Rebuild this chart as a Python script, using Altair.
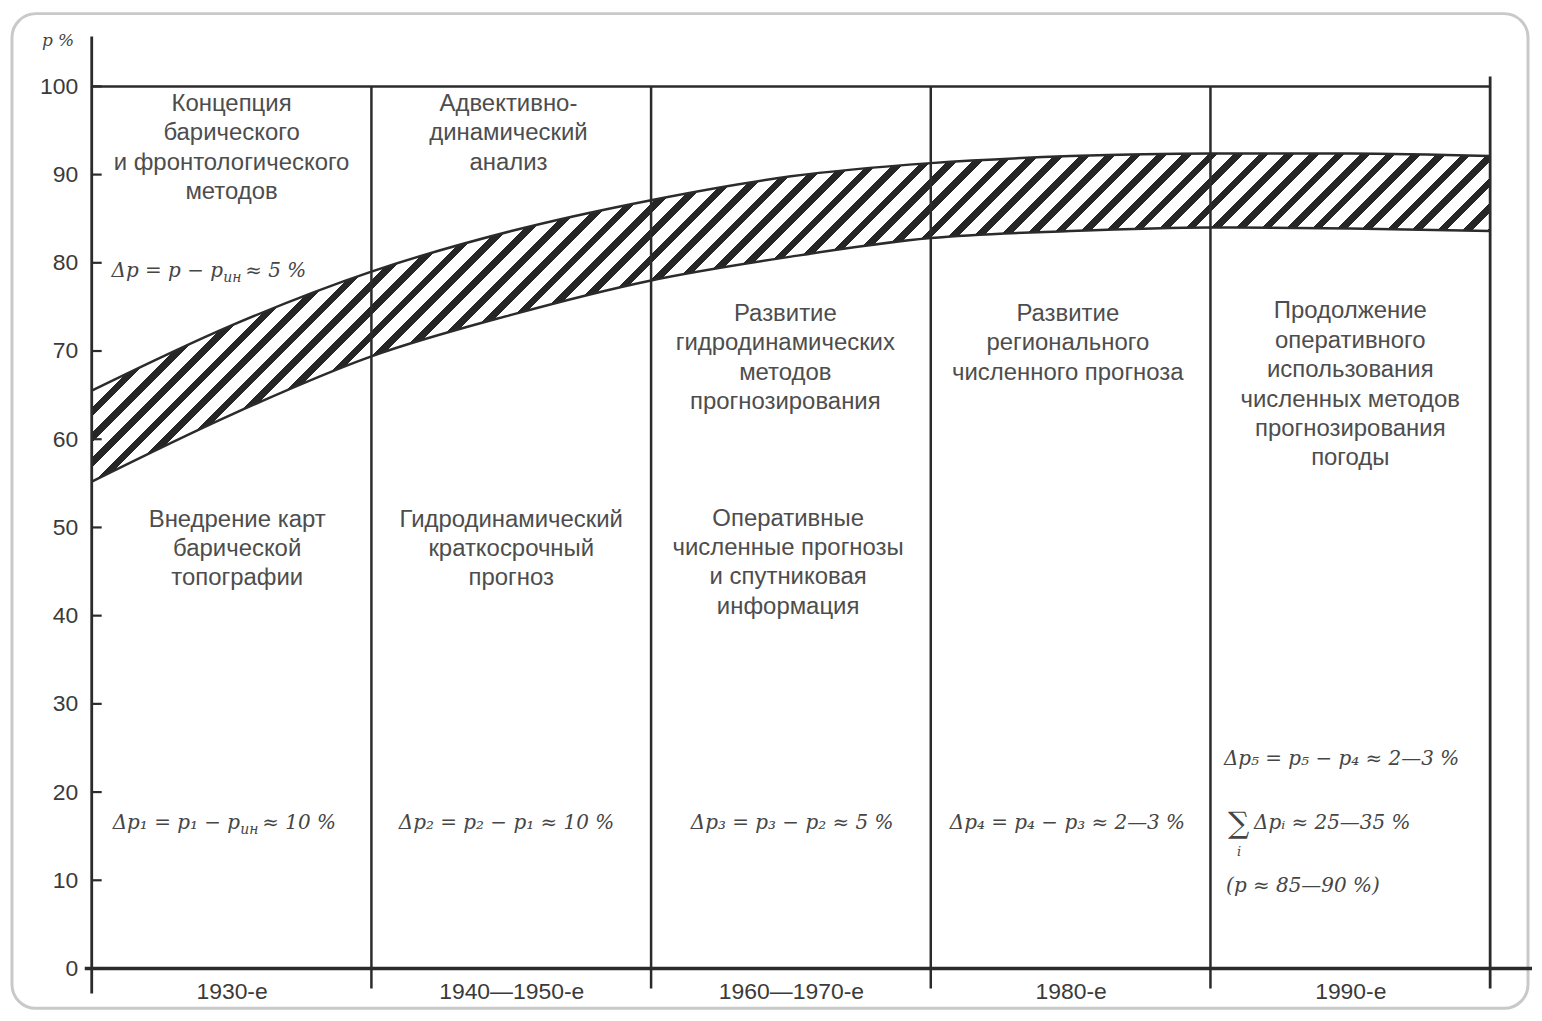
import json
import altair as alt
import pandas as pd

# ---------------- data ----------------
periods = ["1930-е", "1940—1950-е", "1960—1970-е", "1980-е", "1990-е"]
boundaries = list(range(len(periods) + 1))

band_x = [0, 0.5, 1, 1.5, 2, 2.5, 3, 3.5, 4, 4.5, 5]
band_upper = [65.5, 72.9, 79.0, 83.6, 87.1, 89.8, 91.3, 92.1, 92.4, 92.4, 92.1]
band_lower = [55.2, 62.8, 69.4, 74.1, 78.0, 80.7, 82.8, 83.6, 84.0, 83.9, 83.6]

y_ticks = [0, 10, 20, 30, 40, 50, 60, 70, 80, 90, 100]

ann_text = [
    "Концепция\nбарического\nи фронтологического\nметодов",
    "Адвективно-\nдинамический\nанализ",
    "Развитие\nгидродинамических\nметодов\nпрогнозирования",
    "Развитие\nрегионального\nчисленного прогноза",
    "Продолжение\nоперативного\nиспользования\nчисленных методов\nпрогнозирования\nпогоды",
    "Внедрение карт\nбарической\nтопографии",
    "Гидродинамический\nкраткосрочный\nпрогноз",
    "Оперативные\nчисленные прогнозы\nи спутниковая\nинформация",
]
ann_x = [0.50, 1.49, 2.48, 3.49, 4.50, 0.52, 1.50, 2.49]
ann_y = [97.2, 97.2, 73.4, 73.4, 73.7, 50.1, 50.1, 50.2]

formula_text = [
    "Δp = p − p",
    "Δp₁ = p₁ − p",
    "Δp₂ = p₂ − p₁ ≈ 10 %",
    "Δp₃ = p₃ − p₂ ≈ 5 %",
    "Δp₄ = p₄ − p₃ ≈ 2—3 %",
    "Δp₅ = p₅ − p₄ ≈ 2—3 %",
    "(p ≈ 85—90 %)",
]
formula_x = [0.071, 0.075, 1.098, 2.142, 3.068, 4.048, 4.056]
formula_y = [78.4, 15.8, 15.8, 15.8, 15.8, 23.05, 8.7]

sub_text = ["ин", "ин"]
suffix_text = [" ≈ 5 %", " ≈ 10 %"]

sum_sign = "∑"
sum_index = "i"
sum_text = "Δpᵢ ≈ 25—35 %"
sum_x = 4.063
sum_y = 15.8

# ---------------- frames ----------------
W, H = 1403, 885
band_df = pd.DataFrame({"x": band_x, "upper": band_upper, "lower": band_lower})
ann_df = pd.DataFrame({"x": ann_x, "y": ann_y, "text": ann_text})
form_df = pd.DataFrame({"x": formula_x, "y": formula_y, "text": formula_text})
ytick_df = pd.DataFrame({"y": y_ticks})

SX = alt.Scale(domain=[0, len(periods)], nice=False, zero=False)
SY = alt.Scale(domain=[0, 100], nice=False, zero=False)

LINE = "#2b2b2b"
SANS = "Liberation Sans"
SERIF = "DejaVu Serif"

label_expr = json.dumps(periods, ensure_ascii=False) + "[floor(datum.value)]"

x_axis = alt.Axis(
    values=[i + 0.5 for i in range(len(periods))],
    labelExpr=label_expr,
    ticks=False, domain=False, grid=False,
    labelFont=SANS, labelFontSize=23, labelColor="#3a3a3a",
    labelPadding=12, title=None,
)
y_axis = alt.Axis(
    values=y_ticks, ticks=False, domain=False, grid=False,
    labelFont=SANS, labelFontSize=23, labelColor="#3a3a3a",
    labelPadding=14, title=None,
)


def X(f):
    return alt.X(f, scale=SX, axis=x_axis)


def Y(f):
    return alt.Y(f, scale=SY, axis=y_axis)


# hatch made with a hard-stop linear gradient
n_stripes, dark_frac = 68, 0.38
stops = []
for i in range(n_stripes):
    a = i / n_stripes
    b = (i + dark_frac) / n_stripes
    c = (i + 1) / n_stripes
    stops += [
        alt.GradientStop(offset=a, color="#262626"),
        alt.GradientStop(offset=b, color="#262626"),
        alt.GradientStop(offset=b, color="#ffffff"),
        alt.GradientStop(offset=c, color="#ffffff"),
    ]
bw = W
bh = (max(band_upper) - min(band_lower)) / 100 * H
k = (bw + bh) * bw / (bw ** 2 + bh ** 2)
hatch = alt.LinearGradient(gradient="linear", stops=stops, x1=0, y1=0, x2=k, y2=k * bh / bw)

one = pd.DataFrame({"v": [0]})

frame = alt.Chart(one).mark_rect(
    fillOpacity=0, stroke="#c9c9c9", strokeWidth=3, cornerRadius=24
).encode(x=alt.value(-80), x2=alt.value(1441), y=alt.value(-73), y2=alt.value(925))

area = alt.Chart(band_df).mark_area(interpolate="monotone", color=hatch).encode(
    x=X("x:Q"), y=Y("upper:Q"), y2="lower:Q",
)
up_line = alt.Chart(band_df).mark_line(interpolate="monotone", color=LINE, strokeWidth=2.5).encode(
    x=X("x:Q"), y=Y("upper:Q")
)
lo_line = alt.Chart(band_df).mark_line(interpolate="monotone", color=LINE, strokeWidth=2.5).encode(
    x=X("x:Q"), y=Y("lower:Q")
)

sep_df = pd.DataFrame({"x": boundaries[1:-1]})
separators = alt.Chart(sep_df).mark_rule(color=LINE, strokeWidth=2.5).encode(
    x=X("x:Q"), y=alt.value(0), y2=alt.value(H + 20)
)
right_sep = alt.Chart(pd.DataFrame({"x": boundaries[-1:]})).mark_rule(color=LINE, strokeWidth=2.8).encode(
    x=X("x:Q"), y=alt.value(-10), y2=alt.value(H + 20)
)
left_axis = alt.Chart(pd.DataFrame({"x": boundaries[:1]})).mark_rule(color=LINE, strokeWidth=2.8).encode(
    x=X("x:Q"), y=alt.value(-50), y2=alt.value(H + 25)
)
top_line = alt.Chart(pd.DataFrame({"y": [100]})).mark_rule(color=LINE, strokeWidth=2.5).encode(
    y=Y("y:Q"), x=alt.value(0), x2=alt.value(W)
)
x_line = alt.Chart(pd.DataFrame({"y": [0]})).mark_rule(color=LINE, strokeWidth=3.5).encode(
    y=Y("y:Q"), x=alt.value(-7), x2=alt.value(W + 42)
)
yticks = alt.Chart(ytick_df).mark_rule(color=LINE, strokeWidth=2.2).encode(
    y=Y("y:Q"), x=alt.value(0), x2=alt.value(10)
)

p_label = alt.Chart(one).mark_text(
    text="p %", font=SERIF, fontStyle="italic", fontSize=17, color="#444", align="left"
).encode(x=alt.value(-50), y=alt.value(-46))

ann = alt.Chart(ann_df).mark_text(
    font=SANS, fontSize=24, lineBreak="\n", lineHeight=29.5,
    align="center", baseline="alphabetic", color="#4d4d4d",
).encode(x=X("x:Q"), y=Y("y:Q"), text="text:N")

FONT_F = dict(font=SERIF, fontStyle="italic", color="#454545", align="left", baseline="alphabetic")
forms = alt.Chart(form_df).mark_text(fontSize=20, **FONT_F).encode(
    x=X("x:Q"), y=Y("y:Q"), text="text:N"
)


def piece(px, py, text, dx, dy, size, style="italic"):
    d = pd.DataFrame({"x": [px], "y": [py], "text": [text]})
    opts = dict(FONT_F)
    opts["fontStyle"] = style
    return alt.Chart(d).mark_text(fontSize=size, dx=dx, dy=dy, **opts).encode(
        x=X("x:Q"), y=Y("y:Q"), text="text:N"
    )


pieces = [
    piece(formula_x[0], formula_y[0], sub_text[0], 112, 5, 14),
    piece(formula_x[0], formula_y[0], suffix_text[0], 134, 0, 20),
    piece(formula_x[1], formula_y[1], sub_text[1], 128, 5, 14),
    piece(formula_x[1], formula_y[1], suffix_text[1], 150, 0, 20),
    piece(sum_x, sum_y, sum_sign, 0, 4, 30, "normal"),
    piece(sum_x, sum_y, sum_index, 9, 27, 13),
    piece(sum_x, sum_y, sum_text, 26, 0, 20),
]

chart = alt.layer(
    frame, area, up_line, lo_line, separators, right_sep, left_axis, top_line,
    x_line, yticks, p_label, ann, forms, *pieces
).properties(
    width=W, height=H,
    padding={"left": 84, "top": 77, "right": 44, "bottom": 40},
    autosize=alt.AutoSizeParams(type="none"),
    background="white",
).configure_view(stroke=None)

chart.save("out.html", embed_options={"renderer": "svg", "actions": False})
